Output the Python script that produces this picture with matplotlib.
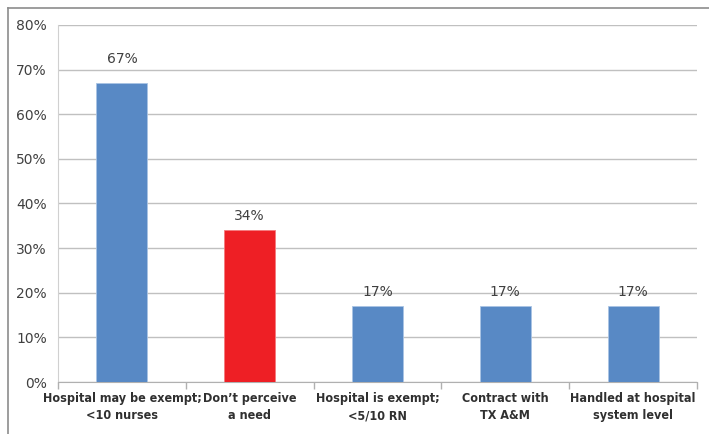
import numpy as np
import matplotlib
matplotlib.use('Agg')
import matplotlib.pyplot as plt
from matplotlib.lines import Line2D
from matplotlib.ticker import PercentFormatter

# data
categories = ['Hospital may be exempt;\n<10 nurses', 'Don\u2019t perceive\na need',
              'Hospital is exempt;\n<5/10 RN', 'Contract with\nTX A&M',
              'Handled at hospital\nsystem level']
values = [67, 34, 17, 17, 17]
value_labels = ['67%', '34%', '17%', '17%', '17%']
y_ticks = [0, 10, 20, 30, 40, 50, 60, 70, 80]

blue = '#5889C5'
red = '#EE1F25'
bar_colors = [blue, red, blue, blue, blue]
label_lift = [17, 10, 10, 10, 10]  # points above bar top (first one sits higher)

fig = plt.figure(figsize=(7.09, 4.34), dpi=100)
ax = fig.add_axes([58/709, 1 - 382/434, (697 - 58)/709, (382 - 25)/434])

x = np.arange(len(categories))
ax.bar(x, values, width=0.4, color=bar_colors, edgecolor='#A9C4E4', linewidth=0.6, zorder=3)
ax.patches[1].set_edgecolor('#F47A7D')

for xi, v, lab, lift in zip(x, values, value_labels, label_lift):
    ax.annotate(lab, (xi, v), xytext=(0, lift), textcoords='offset points',
                ha='center', va='center', fontsize=10, color='#404040',
                family='DejaVu Sans')

ax.set_xlim(-0.5, len(categories) - 0.5)
ax.set_ylim(0, 80)
ax.set_yticks(y_ticks)
ax.yaxis.set_major_formatter(PercentFormatter(decimals=0))
ax.grid(axis='y', color='#C0C0C0', linewidth=1.0, zorder=0)

ax.set_xticks(x)
ax.set_xticklabels(categories, fontsize=9, fontweight='bold', color='#303030',
                   family='DejaVu Sans', fontstretch='condensed', linespacing=1.45)
ax.tick_params(axis='x', length=0, pad=7)
ax.set_xticks(np.arange(len(categories) + 1) - 0.5, minor=True)
ax.tick_params(axis='x', which='minor', length=5, color='#B0B0B0', width=1)
ax.tick_params(axis='y', length=0, labelsize=10, labelcolor='#404040', pad=8)

for s in ['top', 'right']:
    ax.spines[s].set_visible(False)
ax.spines['left'].set_color('#D0D0D0')
ax.spines['bottom'].set_color('#B0B0B0')

# outer frame pieces (top and left)
fig.add_artist(Line2D([8/709, 1], [1 - 8/434, 1 - 8/434], transform=fig.transFigure,
                      color='#8C8C8C', linewidth=1.2))
fig.add_artist(Line2D([8/709, 8/709], [0, 1 - 8/434], transform=fig.transFigure,
                      color='#8C8C8C', linewidth=1.2))

fig.savefig('out.png', dpi=100)
